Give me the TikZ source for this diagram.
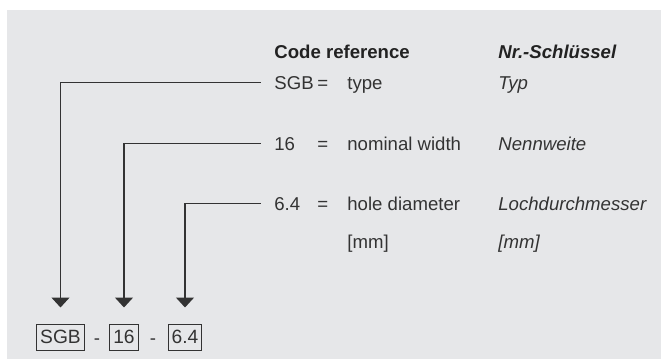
\documentclass[tikz,border=0pt]{standalone}
\usepackage{fontspec}
\setmainfont{Liberation Sans}
\usetikzlibrary{arrows.meta}
\definecolor{panel}{HTML}{E6E7E9}
\definecolor{ink}{HTML}{333333}
\definecolor{inkdark}{HTML}{222222}
\tikzset{
  txt/.style={anchor=base west,inner sep=0pt,text=ink,font=\fontsize{9.3}{11}\selectfont},
  head/.style={txt,text=inkdark,font=\fontsize{9.3}{11}\selectfont\bfseries},
  code/.style={txt,inner xsep=6.5pt},
  keybox/.style={draw=ink,line width=0.5pt,text=ink,inner xsep=1.8pt,inner ysep=0pt,
    minimum height=13pt,font=\fontsize{9.6}{11}\selectfont},
  lead/.style={draw=ink,line width=0.7pt,-{Triangle[width=9pt,length=5pt]},shorten >=8pt}
}
\begin{document}
\begin{tikzpicture}[x=0.5pt,y=-0.5pt]
    \useasboundingbox (0,0) rectangle (661,359);
    \fill[panel] (7,10) rectangle (661,359);
    % heading
    \node[head] (hcode) at (274,58) {Code reference};
    \node[head] (hkey) at (498,58) {\itshape Nr.-Schlüssel};
    % rows of the key
    \node[code] (csgb) at (261,89) {SGB};
    \node[txt] (esgb) at (317,89) {=};
    \node[txt] (dsgb) at (347,89) {type};
    \node[txt] (gsgb) at (498,89) {\itshape Typ};
    \node[code] (cnw) at (261,150) {16};
    \node[txt] (enw) at (317,150) {=};
    \node[txt] (dnw) at (347,150) {nominal width};
    \node[txt] (gnw) at (498,150) {\itshape Nennweite};
    \node[code] (chole) at (261,210) {6.4};
    \node[txt] (ehole) at (317,210) {=};
    \node[txt] (dhole) at (347,210) {hole diameter};
    \node[txt] (ghole) at (498,210) {\itshape Lochdurchmesser};
    \node[txt] (dunit) at (347,248) {[mm]};
    \node[txt] (gunit) at (498,248) {\itshape [mm]};
    % order code
    \node[keybox] (bsgb) at (60.5,337) {SGB};
    \node[txt,anchor=base] (dash1) at (97,344) {-};
    \node[keybox] (bnw) at (124,337) {16};
    \node[txt,anchor=base] (dash2) at (153,344) {-};
    \node[keybox] (bhole) at (185,337) {6.4};
    % leaders
    \draw[lead] (csgb.west) -| (bsgb.north);
    \draw[lead] (cnw.west) -| (bnw.north);
    \draw[lead] (chole.west) -| (bhole.north);
\end{tikzpicture}
\end{document}
